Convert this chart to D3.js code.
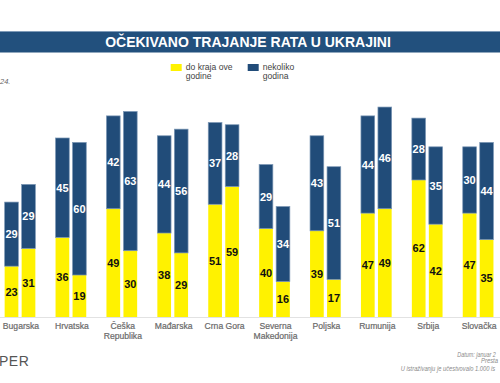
<!DOCTYPE html>
<html><head><meta charset="utf-8">
<script src="https://cdn.jsdelivr.net/npm/d3@7"></script>
<style>html,body{margin:0;padding:0;background:#fff;overflow:hidden}svg{display:block;font-family:"Liberation Sans",Arial,sans-serif}</style>
</head><body><svg id="c" width="500" height="383"></svg>
<script>
const countries = ["Bugarska","Hrvatska","Češka Republika","Mađarska","Crna Gora","Severna Makedonija","Poljska","Rumunija","Srbija","Slovačka"];
const labelLines = [["Bugarska"],["Hrvatska"],["Češka","Republika"],["Mađarska"],["Crna Gora"],["Severna","Makedonija"],["Poljska"],["Rumunija"],["Srbija"],["Slovačka"]];
const waves = ["a","b"];
const yellowA = [23,36,49,38,51,40,39,47,62,47];
const blueA   = [29,45,42,44,37,29,43,44,28,30];
const yellowB = [31,19,30,29,59,16,17,49,42,35];
const blueB   = [29,60,63,56,28,34,51,46,35,44];
const title = "OČEKIVANO TRAJANJE RATA U UKRAJINI";
const noteLines = ["Datum: januar 2","Presta","U istraživanju je učestvovalo 1.000 is"];

const YEL = "#fff200", BLU = "#214c79";
const svg = d3.select("#c");

// title bar
svg.append("rect").attr("x",0).attr("y",31).attr("width",500).attr("height",21.5).attr("fill","#22507d");
svg.append("rect").attr("x",0).attr("y",31).attr("width",500).attr("height",1).attr("fill","#7f9bb8");
svg.append("text").attr("x",248).attr("y",47.3).attr("text-anchor","middle")
  .attr("fill","#fff").attr("font-weight","bold").attr("font-size",14).text(title);

// legend
const leg = [{c:YEL,x:170.7,lines:["do kraja ove","godine"]},{c:BLU,x:247.7,lines:["nekoliko","godina"]}];
leg.forEach(l=>{
  svg.append("rect").attr("x",l.x).attr("y",64).attr("width",11).attr("height",7).attr("fill",l.c);
  const t = svg.append("text").attr("x",l.x+15).attr("y",70).attr("font-size",8.6).attr("fill","#444");
  l.lines.forEach((s,i)=>t.append("tspan").attr("x",l.x+15).attr("dy",i?9.4:0).text(s));
});

svg.append("text").attr("x",0).attr("y",84).attr("font-size",7.5).attr("font-style","italic").attr("fill","#666").text("24.");

const x = d3.scaleBand().domain(countries).range([-5.45, 503.55]).padding(0);
const xi = d3.scaleBand().domain(waves).range([10.1, 40.8]).paddingInner(0.194);
const y = d3.scaleLinear().domain([0,100]).range([317, 96]);

svg.append("line").attr("x1",0).attr("x2",500).attr("y1",317.5).attr("y2",317.5).attr("stroke","#e2e2e2").attr("stroke-width",1);

const rows = [];
countries.forEach((c,i)=>{
  rows.push({c,w:"a",yv:yellowA[i],bv:blueA[i]});
  rows.push({c,w:"b",yv:yellowB[i],bv:blueB[i]});
});
const g = svg.append("g");
rows.forEach(r=>{
  const bx = x(r.c)+xi(r.w), bw = xi.bandwidth();
  g.append("rect").attr("x",bx).attr("width",bw).attr("y",y(r.yv)).attr("height",y(0)-y(r.yv)).attr("fill",YEL);
  g.append("rect").attr("x",bx).attr("width",bw).attr("y",y(r.yv+r.bv)).attr("height",y(r.yv)-y(r.yv+r.bv))
    .attr("fill",BLU).attr("stroke","#7c97b5").attr("stroke-width",0.7);
  g.append("text").attr("x",bx+bw/2).attr("y",(y(0)+y(r.yv))/2+4).attr("text-anchor","middle")
    .attr("font-size",11).attr("font-weight","bold").attr("fill","#111").text(r.yv);
  g.append("text").attr("x",bx+bw/2).attr("y",(y(r.yv)+y(r.yv+r.bv))/2+4).attr("text-anchor","middle")
    .attr("font-size",11).attr("font-weight","bold").attr("fill","#fff").text(r.bv);
});

// category labels
countries.forEach((c,i)=>{
  const t = svg.append("text").attr("x",x(c)+x.bandwidth()/2+1).attr("y",329.3).attr("text-anchor","middle")
    .attr("font-size",8.6).attr("fill","#6a6a6a").attr("stroke","#6a6a6a").attr("stroke-width",0.2);
  labelLines[i].forEach((s,k)=>t.append("tspan").attr("x",x(c)+x.bandwidth()/2+1).attr("dy",k?9.4:0).text(s));
});

svg.append("text").attr("x",-1).attr("y",366).attr("font-size",14).attr("fill","#555").attr("font-weight","300").attr("letter-spacing",0.5).text("PER");

const noteX = [457.3,481,400.7], noteY = [356.5,363,371], noteW = [38.5,17,94.5];
noteLines.forEach((t,i)=>svg.append("text").attr("x",noteX[i]).attr("y",noteY[i]).attr("font-size",6.5)
  .attr("textLength",noteW[i]).attr("lengthAdjust","spacingAndGlyphs")
  .attr("font-style","italic").attr("fill","#8a8a8a").text(t));
</script></body></html>
